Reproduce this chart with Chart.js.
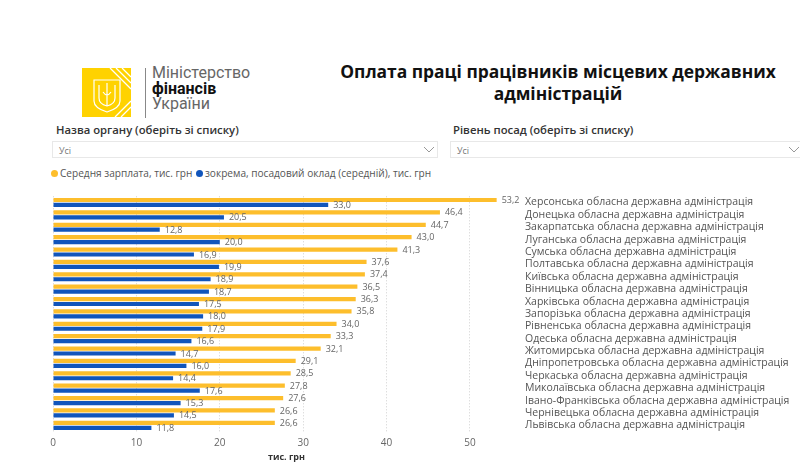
<!DOCTYPE html>
<html><head><meta charset="utf-8">
<script src="https://cdn.jsdelivr.net/npm/chart.js@4"></script>
<style>
html,body{margin:0;padding:0;background:#fff;width:800px;height:468px;overflow:hidden;font-family:"Open Sans",sans-serif;}
.abs{position:absolute;white-space:nowrap;}
#title{left:300px;width:516px;top:60px;text-align:center;font-weight:700;font-size:17.4px;line-height:22px;color:#111;}
.lbl{font-size:11.3px;color:#333;font-weight:600;}
.box{border:1px solid #e8e8e8;height:17px;box-sizing:border-box;}
.box span{position:absolute;left:6px;top:2px;font-size:9px;color:#777;}
.chev{position:absolute;top:4px;}
#legend{left:51px;top:166px;font-size:10.1px;color:#555;}
.dot{display:inline-block;width:7px;height:7px;border-radius:50%;margin-right:2px;vertical-align:0px}
#logotext{left:152px;top:65px;font-size:16px;line-height:15.5px;color:#666;font-family:"Roboto",sans-serif}
#wrap{position:absolute;left:0;top:185px;width:800px;height:283px;}
</style></head>
<body>
<svg class="abs" style="left:82px;top:68px" width="50" height="50" viewBox="0 0 50 50">
  <rect x="0" y="0" width="49" height="49" fill="#FFD200"/>
  <g stroke="#fff" stroke-width="1.3" fill="none">
    <line x1="28" y1="0" x2="49" y2="21"/><line x1="34" y1="0" x2="49" y2="15"/><line x1="40" y1="0" x2="49" y2="9"/>
    <line x1="33" y1="49" x2="49" y2="33"/><line x1="39" y1="49" x2="49" y2="39"/>
  </g>
  <g stroke="#fff" stroke-width="1.2" fill="none">
    <path d="M12 12 L38 12 L38 33 Q38 40 25 44 Q12 40 12 33 Z"/>
    <path d="M25 15 L25 38 M17 17 L17 30 Q17 36 25 38 Q33 36 33 30 L33 17 M21 24 Q25 30 29 24"/>
  </g>
</svg>
<div class="abs" style="left:145px;top:68px;width:1px;height:50px;background:#888"></div>
<div class="abs" id="logotext">Міністерство<br><b style="color:#111">фінансів</b><br>України</div>
<div class="abs" id="title">Оплата праці працівників місцевих державних<br>адміністрацій</div>

<div class="abs lbl" style="left:56px;top:122px">Назва органу (оберіть зі списку)</div>
<div class="abs box" style="left:52px;top:141px;width:386px"><span>Усі</span>
<svg class="chev" style="left:370px" width="12" height="8"><polyline points="1,1 6,6 11,1" fill="none" stroke="#999" stroke-width="1"/></svg></div>
<div class="abs lbl" style="left:453px;top:122px">Рівень посад (оберіть зі списку)</div>
<div class="abs box" style="left:450px;top:141px;width:360px"><span>Усі</span>
<svg class="chev" style="left:337px" width="12" height="8"><polyline points="1,1 6,6 11,1" fill="none" stroke="#999" stroke-width="1"/></svg></div>

<div class="abs" id="legend"><span class="dot" style="background:#FDBE2C"></span>Середня зарплата, тис. грн <span class="dot" style="background:#1155BB;margin-left:1px"></span>зокрема, посадовий оклад (середній), тис. грн</div>

<div id="wrap"><canvas id="c" width="800" height="283"></canvas></div>
<script>
const categories = [
  "Херсонська обласна державна адміністрація",
  "Донецька обласна державна адміністрація",
  "Закарпатська обласна державна адміністрація",
  "Луганська обласна державна адміністрація",
  "Сумська обласна державна адміністрація",
  "Полтавська обласна державна адміністрація",
  "Київська обласна державна адміністрація",
  "Вінницька обласна державна адміністрація",
  "Харківська обласна державна адміністрація",
  "Запорізька обласна державна адміністрація",
  "Рівненська обласна державна адміністрація",
  "Одеська обласна державна адміністрація",
  "Житомирська обласна державна адміністрація",
  "Дніпропетровська обласна державна адміністрація",
  "Черкаська обласна державна адміністрація",
  "Миколаївська обласна державна адміністрація",
  "Івано-Франківська обласна державна адміністрація",
  "Чернівецька обласна державна адміністрація",
  "Львівська обласна державна адміністрація"
];
const avgSalary = [53.2,46.4,44.7,43.0,41.3,37.6,37.4,36.5,36.3,35.8,34.0,33.3,32.1,29.1,28.5,27.8,27.6,26.6,26.6];
const baseSalary = [33.0,20.5,12.8,20.0,16.9,19.9,18.9,18.7,17.5,18.0,17.9,16.6,14.7,16.0,14.4,17.6,15.3,14.5,11.8];
const seriesNames = ["Середня зарплата, тис. грн","зокрема, посадовий оклад (середній), тис. грн"];
const xTicks = [0,10,20,30,40,50];
const axisTitle = "тис. грн";

const valueLabels = {
  id:'valueLabels',
  afterDatasetsDraw(chart){
    const ctx = chart.ctx;
    ctx.save();
    ctx.font = '9px "Open Sans", sans-serif';
    ctx.fillStyle = '#666';
    ctx.textBaseline = 'middle';
    ctx.textAlign = 'left';
    chart.data.datasets.forEach((ds,i)=>{
      chart.getDatasetMeta(i).data.forEach((el,j)=>{
        ctx.fillText(ds.data[j].toFixed(1).replace('.',','), el.x+5, el.y+0.5);
      });
    });
    ctx.restore();
  }
};

new Chart(document.getElementById('c'),{
  type:'bar',
  data:{
    labels:categories,
    datasets:[
      {label:seriesNames[0],data:avgSalary,backgroundColor:'#FDBE2C',categoryPercentage:0.8,barPercentage:0.85},
      {label:seriesNames[1],data:baseSalary,backgroundColor:'#1155BB',categoryPercentage:0.8,barPercentage:0.85}
    ]
  },
  options:{
    indexAxis:'y',
    responsive:false,
    animation:false,
    layout:{padding:{left:53,top:7.5,right:0,bottom:0}},
    plugins:{legend:{display:false},tooltip:{enabled:false}},
    scales:{
      x:{
        min:0,max:56,
        afterBuildTicks(s){ s.ticks = xTicks.map(v=>({value:v})); },
        afterFit(s){ s.height = 36.5; },
        border:{display:false,dash:[1,2]},
        grid:{color:'#d0d0d0',drawTicks:false,lineWidth:1},
        ticks:{padding:6,color:'#666',font:{family:'"Open Sans", sans-serif',size:10}},
        title:{display:true,text:axisTitle,color:'#333',font:{family:'"Open Sans", sans-serif',size:9,weight:'bold'},padding:{top:0,bottom:5}}
      },
      y:{
        position:'right',
        afterFit(s){ s.width = 280; },
        border:{display:false},
        grid:{display:false,drawTicks:false},
        ticks:{padding:5,color:'#555',autoSkip:false,font:{family:'"Open Sans", sans-serif',size:10.5}}
      }
    }
  },
  plugins:[valueLabels]
});
</script>
</body></html>
